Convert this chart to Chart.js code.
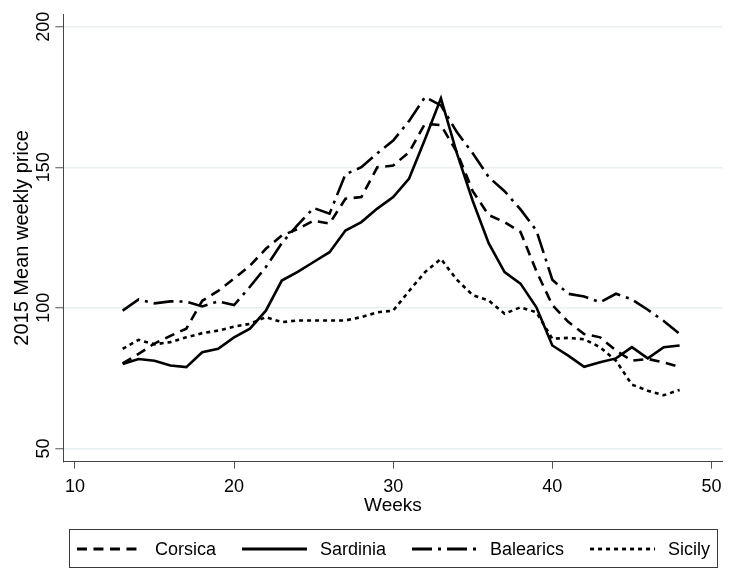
<!DOCTYPE html>
<html>
<head>
<meta charset="utf-8">
<script src="https://cdn.jsdelivr.net/npm/chart.js@4/dist/chart.umd.min.js"></script>
<style>
  html, body { margin: 0; padding: 0; background: #ffffff; }
  #c { display: block; }
</style>
</head>
<body>
<canvas id="c" width="729" height="570"></canvas>
<script>
// ---- data ----
const weeks = [13,14,15,16,17,18,19,20,21,22,23,24,25,26,27,28,29,30,31,32,33,34,35,36,37,38,39,40,41,42,43,44,45,46,47,48];
const corsica   = [80.2,83.6,87.3,90,92.6,102.5,106,110.4,115,121,125.7,128,131,130,138.8,139.4,150,150.6,155.4,165.5,165,155.4,141.5,133,130.5,127,113,101,95,90.7,89.5,84.8,81.2,81.8,80.6,78.9];
const sardinia  = [80,81.8,81.2,79.5,78.9,84.2,85.4,89.5,92.6,99,109.7,112.8,116.3,119.8,127.5,130.5,135.3,139.4,146,160,174.5,155,138,123,112.7,108.6,100.2,86.6,83,79,80.6,82,86,82,86,86.6];
const balearics = [99,103,101.6,102.3,102.2,100.5,102.3,101,107.5,114.5,123,129.5,135.5,133.5,147.5,150,155,159.5,166.5,175,172,162.5,155,146.5,141.5,135,127.5,110,105,104,102,105,103,99.3,95.3,90.7];
const sicily    = [85.4,88.6,87,87.8,89.5,91,91.9,93.3,94.3,96.7,94.9,95.5,95.5,95.5,95.5,96.7,98.4,99,106,112.7,117.4,110,104.5,102.6,97.9,100.2,98.4,89,89.3,88.8,86,81.2,72.7,70.5,68.9,70.8];
const seriesNames = ['Corsica', 'Sardinia', 'Balearics', 'Sicily'];
const xTickValues = [10, 20, 30, 40, 50];
const yTickValues = [50, 100, 150, 200];
const xTitle = 'Weeks';
const yTitle = '2015 Mean weekly price';

// ---- styles ----
const FONT = '"Liberation Sans", Arial, Helvetica, sans-serif';
const dashes = [[10, 6.5], [], [20, 6, 3, 6], [4, 4]];
const seriesValues = [corsica, sardinia, balearics, sicily];

const datasets = seriesNames.map((name, k) => ({
  label: name,
  data: weeks.map((w, i) => ({ x: w, y: seriesValues[k][i] })),
  borderColor: '#000000',
  backgroundColor: '#000000',
  borderWidth: 2.6,
  borderDash: dashes[k],
  pointRadius: 0,
  pointHoverRadius: 0,
  tension: 0,
  fill: false
}));

// Legend drawn in a framed row under the x axis (Stata style)
const islandLegend = {
  id: 'islandLegend',
  afterDraw(chart) {
    const ctx = chart.ctx;
    const ca = chart.chartArea;
    const boxL = Math.round(ca.left + 6) + 0.5;
    const boxR = Math.round(ca.right - 6) + 0.5;
    const cy = chart.height - 21;
    const boxT = Math.round(cy - 20) + 0.5;
    const boxB = Math.round(cy + 18) + 0.5;
    ctx.save();
    ctx.strokeStyle = '#3a3a3a';
    ctx.lineWidth = 1;
    ctx.setLineDash([]);
    ctx.strokeRect(boxL, boxT, boxR - boxL, boxB - boxT);

    ctx.font = '18px ' + FONT;
    const sampleW = 65, sampleGap = 13, itemGap = 26;
    const ds = chart.data.datasets;
    const textW = ds.map(d => ctx.measureText(d.label).width);
    const total = textW.reduce((a, b) => a + b, 0) + ds.length * (sampleW + sampleGap) + (ds.length - 1) * itemGap;
    let x = (boxL + boxR) / 2 - total / 2;
    ds.forEach((d, k) => {
      ctx.strokeStyle = d.borderColor;
      ctx.lineWidth = 2.8;
      ctx.setLineDash(d.borderDash || []);
      ctx.beginPath();
      ctx.moveTo(x, cy);
      ctx.lineTo(x + sampleW, cy);
      ctx.stroke();
      x += sampleW + sampleGap;
      ctx.setLineDash([]);
      ctx.fillStyle = '#000000';
      ctx.textBaseline = 'middle';
      ctx.textAlign = 'left';
      ctx.fillText(d.label, x, cy + 1);
      x += textW[k] + itemGap;
    });
    ctx.restore();
  }
};

new Chart(document.getElementById('c'), {
  type: 'line',
  data: { datasets },
  plugins: [islandLegend],
  options: {
    responsive: false,
    devicePixelRatio: 1,
    animation: false,
    layout: { padding: { left: 0, right: 2, top: 14, bottom: 61 } },
    plugins: {
      tooltip: { enabled: false },
      title: { display: false },
      legend: { display: false }
    },
    scales: {
      x: {
        type: 'linear',
        min: 9.27,
        max: 50.70,
        afterBuildTicks: s => { s.ticks = xTickValues.map(v => ({ value: v })); },
        afterFit: s => { s.height = 47.3; },
        grid: {
          display: true,
          drawOnChartArea: false,
          drawTicks: true,
          tickLength: 7,
          tickColor: '#555555',
          tickWidth: 1
        },
        border: { display: true, color: '#444444', width: 1 },
        ticks: {
          color: '#000000',
          font: { family: FONT, size: 18 },
          padding: 7.5,
          maxRotation: 0,
          autoSkip: false
        },
        title: {
          display: true,
          text: xTitle,
          color: '#000000',
          font: { family: FONT, size: 19 },
          padding: { top: 0, bottom: -8.4 }
        }
      },
      y: {
        type: 'linear',
        min: 45.26,
        max: 204.52,
        afterBuildTicks: s => { s.ticks = yTickValues.map(v => ({ value: v })); },
        afterFit: s => { s.width = 63.3; },
        grid: {
          display: true,
          drawOnChartArea: true,
          drawTicks: true,
          tickLength: 8,
          color: '#e8f0f2',
          lineWidth: 1.5,
          tickColor: '#555555',
          tickWidth: 1
        },
        border: { display: true, color: '#444444', width: 1 },
        ticks: {
          color: '#000000',
          font: { family: FONT, size: 18 },
          padding: -4,
          minRotation: 90,
          maxRotation: 90,
          crossAlign: 'center',
          autoSkip: false
        },
        title: {
          display: true,
          text: yTitle,
          color: '#000000',
          font: { family: FONT, size: 20 },
          padding: { top: 10, bottom: 0 }
        }
      }
    }
  }
});
</script>
</body>
</html>
